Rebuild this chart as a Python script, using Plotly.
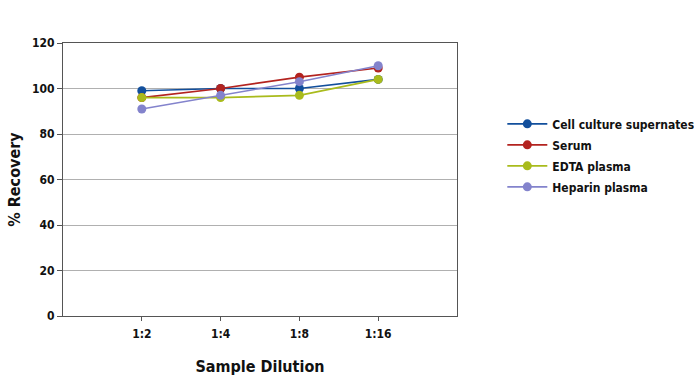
import plotly.graph_objects as go

categories = ["1:2", "1:4", "1:8", "1:16"]
cell_culture = [99, 100, 100, 104]
serum = [96, 100, 105, 109]
edta_plasma = [96, 96, 97, 104]
heparin_plasma = [91, 97, 103, 110]
y_ticks = [0, 20, 40, 60, 80, 100, 120]

series = [
    ("Cell culture supernates", cell_culture, "#124f9c"),
    ("Serum", serum, "#b3231f"),
    ("EDTA plasma", edta_plasma, "#a9bb1c"),
    ("Heparin plasma", heparin_plasma, "#8383cc"),
]

FONT = "DejaVu Sans Condensed, Roboto Condensed, Roboto, sans-serif"

fig = go.Figure()
for name, vals, color in series:
    fig.add_trace(go.Scatter(
        x=list(range(len(categories))), y=vals, name=name, legendgroup=name,
        mode="lines+markers",
        line=dict(color=color, width=1.6),
        marker=dict(color=color, size=9),
    ))

fig.update_layout(
    width=694, height=380,
    margin=dict(l=63, r=237, t=43, b=64, autoexpand=False),
    paper_bgcolor="white", plot_bgcolor="white",
    font=dict(family=FONT, size=12, color="#111111"),
    showlegend=True,
    legend=dict(x=1.115, y=0.757, xanchor="left", yanchor="top",
                font=dict(family=FONT, size=12, weight="bold"),
                tracegroupgap=2, itemwidth=40, bgcolor="rgba(0,0,0,0)"),
    xaxis=dict(
        range=[-1, 4], automargin=False,
        tickmode="array", tickvals=list(range(len(categories))), ticktext=categories,
        ticks="outside", ticklen=4, tickcolor="#555555", ticklabelstandoff=3,
        showgrid=False, zeroline=False,
        showline=True, linecolor="#555555", linewidth=1, mirror=True,
        tickfont=dict(family=FONT, size=12, weight="bold"),
        title=dict(text="Sample Dilution", font=dict(family=FONT, size=16, weight="bold"), standoff=20),
    ),
    yaxis=dict(
        range=[0, 120], automargin=False,
        tickmode="array", tickvals=y_ticks,
        ticks="outside", ticklen=5, tickcolor="#555555",
        showgrid=True, gridcolor="#b0b0b0", gridwidth=1, zeroline=False,
        showline=True, linecolor="#555555", linewidth=1, mirror=True,
        tickfont=dict(family=FONT, size=12, weight="bold"),
        title=dict(text="% Recovery", font=dict(family=FONT, size=16, weight="bold"), standoff=7),
    ),
)

fig.write_html("out.html", config={"displayModeBar": False},
               post_script="document.body.style.margin='0';")
